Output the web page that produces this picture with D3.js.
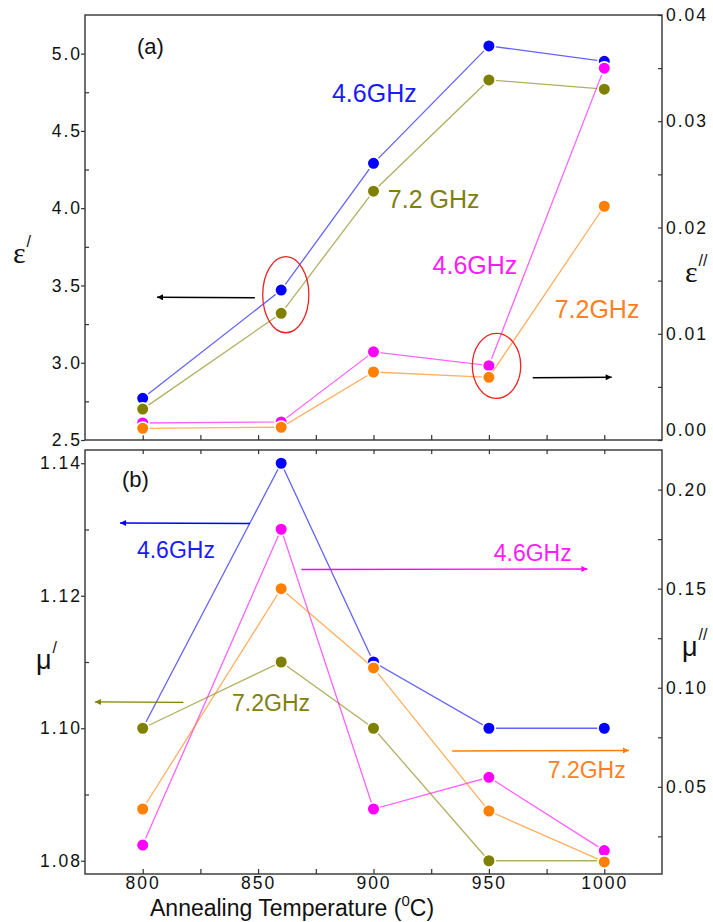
<!DOCTYPE html>
<html><head><meta charset="utf-8">
<script src="https://cdn.jsdelivr.net/npm/d3@7"></script>
<style>
html,body{margin:0;padding:0;background:#fff;}
svg{display:block;font-family:"Liberation Sans",Arial,Helvetica,sans-serif;}
.tick text{font-size:17.5px;letter-spacing:2px;fill:#111;}
</style></head>
<body>
<svg id="chart" width="713" height="922"></svg>
<script>
// ---------- data ----------
const temps = [800, 860, 900, 950, 1000];
// panel (a)
const epsReal46 = [2.77, 3.47, 4.29, 5.05, 4.95];
const epsReal72 = [2.70, 3.32, 4.11, 4.83, 4.77];
const epsImag46 = [0.0016, 0.0017, 0.0083, 0.0070, 0.0350];
const epsImag72 = [0.0011, 0.0012, 0.0064, 0.0059, 0.0220];
// panel (b)
const muReal46 = [1.100, 1.140, 1.110, 1.100, 1.100];
const muReal72 = [1.100, 1.110, 1.100, 1.080, 1.080];
const muImag46 = [0.0206, 0.180, 0.0388, 0.0548, 0.0178];
const muImag72 = [0.0388, 0.150, 0.110, 0.0378, 0.0121];

// tick labels
const xTicks = [800, 850, 900, 950, 1000];
const xMinor = [825, 875, 925, 975];
const epsRealTicks = [2.5, 3.0, 3.5, 4.0, 4.5, 5.0];
const epsRealMinor = [2.75, 3.25, 3.75, 4.25, 4.75];
const epsImagTicks = [0.00, 0.01, 0.02, 0.03, 0.04];
const epsImagMinor = [0.005, 0.015, 0.025, 0.035];
const muRealTicks = [1.08, 1.10, 1.12, 1.14];
const muRealMinor = [1.09, 1.11, 1.13];
const muImagTicks = [0.05, 0.10, 0.15, 0.20];
const muImagMinor = [0.025, 0.075, 0.125, 0.175];

// annotations (data units: x = temperature, y on left 'L' or right 'R' axis)
const labelsA = [
  {t:"4.6GHz", x:882, y:4.69, ax:"L", c:"#1a1aff"},
  {t:"7.2 GHz", x:906.2, y:3.998, ax:"L", c:"#7f7f10"},
  {t:"4.6GHz", x:925.6, y:0.01567, ax:"R", c:"#ff1aff"},
  {t:"7.2GHz", x:978.5, y:0.01144, ax:"R", c:"#ff8020"}
];
const labelsB = [
  {t:"4.6GHz", x:797.5, y:1.1257, ax:"L", c:"#1a1aff"},
  {t:"4.6GHz", x:952.1, y:0.164, ax:"R", c:"#ff1aff"},
  {t:"7.2GHz", x:838.7, y:1.1026, ax:"L", c:"#7f7f10"},
  {t:"7.2GHz", x:975.5, y:0.0545, ax:"R", c:"#ff8020"}
];
const arrowsA = [
  {x1:848.6, x2:806.2, y:3.42, ax:"L", c:"#000000"},
  {x1:969.0, x2:1003.2, y:0.00586, ax:"R", c:"#000000"}
];
const arrowsB = [
  {x1:846.5, x2:790.2, y:1.1309, ax:"L", c:"#0000ff"},
  {x1:868.8, x2:992.7, y:0.1597, ax:"R", c:"#ff00ff"},
  {x1:817.6, x2:779.3, y:1.1039, ax:"L", c:"#808000"},
  {x1:934.1, x2:1010.7, y:0.0681, ax:"R", c:"#ff8000"}
];
const ellipsesA = [
  {cx:862.0, cy:3.44, rx:10.0, ry:0.246, ax:"L"},
  {cx:953.3, cy:0.00698, rx:10.5, ry:0.00306, ax:"R"}
];

// ---------- layout ----------
const svg = d3.select("#chart");
const L = 85, R = 662;
const aTop = 15, aBot = 440, bTop = 450, bBot = 874;

const x = d3.scaleLinear().domain([775, 1025]).range([L, R]);
const yA = d3.scaleLinear().domain([2.5, 5.25]).range([aBot, aTop]);
const yA2 = d3.scaleLinear().domain([0, 0.04]).range([aBot, aTop]);
const yB = d3.scaleLinear().domain([1.078, 1.142]).range([bBot, bTop]);
const yB2 = d3.scaleLinear().domain([0.006, 0.22]).range([bBot, bTop]);

const colors = {blue:"#0000ff", olive:"#808000", magenta:"#ff00ff", orange:"#ff8000"};

// arrow markers
const defs = svg.append("defs");
const markerColors = ["#000000", "#0000ff", "#ff00ff", "#808000", "#ff8000"];
markerColors.forEach(c => {
  defs.append("marker").attr("id", "ah" + c.slice(1))
    .attr("viewBox", "0 0 10 10").attr("refX", 10).attr("refY", 5)
    .attr("markerUnits", "userSpaceOnUse")
    .attr("markerWidth", 11).attr("markerHeight", 6).attr("orient", "auto")
    .append("path").attr("d", "M0,0 L10,5 L0,10 z").attr("fill", c);
});

function noDomain(g){ g.select(".domain").remove(); }

function drawPanel(top, bot, yL, yR, tL, mL, tR, mR, fmtL, fmtR, showX) {
  const g = svg.append("g");
  g.append("g").attr("transform", `translate(${L},0)`)
    .call(d3.axisLeft(yL).tickValues(tL).tickFormat(fmtL).tickSizeInner(4).tickSizeOuter(0).tickPadding(-1))
    .call(noDomain)
    .call(s => s.selectAll("line").attr("stroke", "#333").attr("stroke-width", 1.2));
  g.append("g").attr("transform", `translate(${L},0)`)
    .call(d3.axisRight(yL).tickValues(mL).tickFormat("").tickSizeInner(4).tickSizeOuter(0))
    .call(noDomain)
    .call(s => s.selectAll("line").attr("stroke", "#333").attr("stroke-width", 1.2));
  g.append("g").attr("transform", `translate(${R},0)`)
    .call(d3.axisLeft(yR).tickValues(tR.concat(mR)).tickFormat("").tickSizeInner(4).tickSizeOuter(0))
    .call(noDomain)
    .call(s => s.selectAll("line").attr("stroke", "#333").attr("stroke-width", 1.2));
  const rl = g.append("g").attr("transform", `translate(${R},0)`)
    .call(d3.axisRight(yR).tickValues(tR).tickFormat(fmtR).tickSizeInner(0).tickSizeOuter(0).tickPadding(4))
    .call(noDomain);
  rl.selectAll(".tick").filter(d => d === 0).select("text").attr("dy", "-0.28em");
  g.append("g").attr("transform", `translate(0,${bot})`)
    .call(d3.axisTop(x).tickValues(xTicks.concat(xMinor)).tickFormat("").tickSizeInner(5).tickSizeOuter(0))
    .call(noDomain)
    .call(s => s.selectAll("line").attr("stroke", "#333").attr("stroke-width", 1.2));
  if (showX) {
    g.append("g").attr("transform", `translate(0,${top})`)
      .call(d3.axisBottom(x).tickValues(xTicks.concat(xMinor)).tickFormat("").tickSizeInner(4).tickSizeOuter(0))
      .call(noDomain)
      .call(s => s.selectAll("line").attr("stroke", "#333").attr("stroke-width", 1.2));
    g.append("g").attr("transform", `translate(0,${bot})`)
      .call(d3.axisBottom(x).tickValues(xTicks).tickFormat(d3.format("d")).tickSizeInner(0).tickSizeOuter(0).tickPadding(3))
      .call(noDomain);
  }
  g.append("rect").attr("x", L).attr("y", top).attr("width", R - L).attr("height", bot - top)
    .attr("fill", "none").attr("stroke", "#333").attr("stroke-width", 1.4);
  return g;
}

drawPanel(aTop, aBot, yA, yA2, epsRealTicks, epsRealMinor, epsImagTicks, epsImagMinor,
  d3.format(".1f"), d3.format(".2f"), false);
drawPanel(bTop, bBot, yB, yB2, muRealTicks, muRealMinor, muImagTicks, muImagMinor,
  d3.format(".2f"), d3.format(".2f"), true);

function series(vals, yS, color) {
  const pts = temps.map((t, i) => [x(t), yS(vals[i])]);
  svg.append("path").attr("d", d3.line()(pts)).attr("fill", "none")
    .attr("stroke", color).attr("stroke-width", 1.3).attr("stroke-opacity", 0.62);
  svg.append("g").selectAll("circle").data(pts).join("circle")
    .attr("cx", d => d[0]).attr("cy", d => d[1]).attr("r", 6.3)
    .attr("fill", color).attr("stroke", "#fff").attr("stroke-width", 1.6);
}

series(epsReal46, yA, colors.blue);
series(epsReal72, yA, colors.olive);
series(epsImag46, yA2, colors.magenta);
series(epsImag72, yA2, colors.orange);
series(muReal46, yB, colors.blue);
series(muReal72, yB, colors.olive);
series(muImag46, yB2, colors.magenta);
series(muImag72, yB2, colors.orange);

function scaleFor(panel, ax) {
  if (panel === "A") return ax === "L" ? yA : yA2;
  return ax === "L" ? yB : yB2;
}
function drawLabels(list, panel, size) {
  list.forEach(d => {
    const ys = scaleFor(panel, d.ax);
    svg.append("text").attr("x", x(d.x)).attr("y", ys(d.y))
      .attr("fill", d.c).attr("font-size", size).text(d.t);
  });
}
function drawArrows(list, panel) {
  list.forEach(d => {
    const ys = scaleFor(panel, d.ax);
    svg.append("line").attr("x1", x(d.x1)).attr("x2", x(d.x2))
      .attr("y1", ys(d.y)).attr("y2", ys(d.y) - 0.5)
      .attr("stroke", d.c).attr("stroke-width", 1.4)
      .attr("marker-end", `url(#ah${d.c.slice(1)})`);
  });
}
drawLabels(labelsA, "A", 25);
drawLabels(labelsB, "B", 23);
drawArrows(arrowsA, "A");
drawArrows(arrowsB, "B");
ellipsesA.forEach(d => {
  const ys = scaleFor("A", d.ax);
  svg.append("ellipse").attr("cx", x(d.cx)).attr("cy", ys(d.cy))
    .attr("rx", x(d.cx + d.rx) - x(d.cx)).attr("ry", ys(d.cy) - ys(d.cy + d.ry))
    .attr("fill", "none").attr("stroke", "#ee2222").attr("stroke-width", 1.3);
});

svg.append("text").attr("x", x(797.5)).attr("y", yA(5.0)).attr("font-size", 22).attr("fill", "#111").text("(a)");
svg.append("text").attr("x", x(791)).attr("y", yB(1.1364)).attr("font-size", 22).attr("fill", "#111").text("(b)");

function sym(xp, yp, ch, sup, fam, size) {
  const t = svg.append("text").attr("x", xp).attr("y", yp).attr("fill", "#111");
  t.append("tspan").attr("font-family", fam).attr("font-size", size).text(ch);
  t.append("tspan").attr("font-size", 16).attr("dy", -16).attr("dx", 1).text(sup);
}
sym(13, 263, "ε", "/", "'Liberation Serif','Times New Roman',serif", 30);
sym(685, 282, "ε", "//", "'Liberation Serif','Times New Roman',serif", 30);
sym(36, 669, "μ", "/", "'Liberation Sans',Arial,sans-serif", 27);
sym(682, 656, "μ", "//", "'Liberation Sans',Arial,sans-serif", 27);

const xt = svg.append("text").attr("x", 150).attr("y", 916).attr("font-size", 23).attr("fill", "#111");
xt.append("tspan").text("Annealing Temperature (");
xt.append("tspan").attr("font-size", 15).attr("dy", -10).text("0");
xt.append("tspan").attr("dy", 10).text("C)");
</script>
</body></html>
